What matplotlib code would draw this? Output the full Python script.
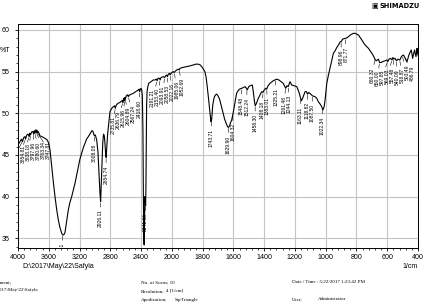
import numpy as np
import matplotlib.pyplot as plt
from matplotlib.ticker import FixedLocator, NullFormatter

wavenumber = np.array([
    4000, 3975, 3955, 3942, 3925, 3910, 3902, 3885, 3870, 3854, 3846, 3838, 3820, 3805, 3797,
    3789, 3780, 3772, 3763, 3755, 3747, 3735, 3715, 3690, 3650, 3620, 3600, 3584, 3562, 3540,
    3519, 3498, 3476, 3455, 3432, 3419, 3405, 3389, 3370, 3346, 3325, 3302, 3280, 3259, 3237,
    3216, 3195, 3172, 3150, 3129, 3108, 3086, 3060, 3040, 3029, 3018, 3008, 2995, 2977, 2960,
    2945, 2935, 2926, 2918, 2908, 2898, 2888, 2878, 2868, 2860, 2854, 2846, 2835, 2820, 2804,
    2782, 2760, 2745, 2735, 2722, 2700, 2675, 2652, 2642, 2636, 2628, 2620, 2615, 2610, 2604,
    2592, 2580, 2572, 2567, 2550, 2525, 2501, 2470, 2436, 2426, 2418, 2410, 2400, 2392, 2384,
    2376, 2370, 2364, 2360, 2356, 2351, 2347, 2341, 2337, 2333, 2328, 2322, 2312, 2300,
    2270, 2241, 2220, 2200, 2191, 2180, 2160, 2153, 2140, 2110, 2093, 2080, 2068, 2058, 2045,
    2030, 2022, 2010, 2000, 1990, 1985, 1975, 1960, 1952, 1947, 1930, 1904, 1880, 1861, 1845,
    1828, 1815, 1806, 1795, 1785, 1777, 1770, 1760, 1752, 1746, 1741, 1734, 1725, 1717, 1708,
    1700, 1690, 1680, 1668, 1657, 1647, 1638, 1632, 1625, 1618, 1611, 1602, 1594, 1586, 1579,
    1570, 1560, 1546, 1535, 1524, 1515, 1510, 1500, 1492, 1477, 1470, 1462, 1458, 1450, 1438,
    1427, 1416, 1408, 1400, 1390, 1384, 1375, 1362, 1341, 1319, 1304, 1290, 1276, 1268, 1260,
    1252, 1244, 1232, 1221, 1205, 1188, 1175, 1166, 1158, 1150, 1134, 1125, 1118, 1110, 1091,
    1087, 1070, 1058, 1048, 1036, 1026, 1018, 1010, 1004, 993, 982, 972, 961, 950, 939,
    928, 917, 905, 899, 890, 874, 868, 852, 840, 830, 820, 809, 798, 787, 776,
    765, 755, 744, 733, 722, 711, 700, 690, 680, 672, 665, 657, 650, 640, 630,
    615, 603, 597, 588, 578, 569, 563, 557, 549, 540, 530, 518, 508, 503, 494,
    486, 478, 472, 465, 461, 452, 444, 438, 435, 428, 422, 418, 413, 408, 406,
    403, 400])
transmittance = np.array([
    46.2, 46.6, 46.9, 46.6, 47.1, 47.2, 46.9, 47.4, 47.5, 47.2, 47.6, 47.4, 47.8, 47.8, 47.5,
    47.9, 47.6, 48.0, 47.7, 48.0, 47.6, 47.8, 47.3, 47.2, 47.0, 46.8, 46.4, 45.6, 43.6, 41.7,
    40.0, 38.5, 37.2, 36.3, 35.6, 35.4, 35.4, 35.7, 36.9, 38.4, 39.3, 40.0, 40.8, 41.6, 42.6,
    43.6, 44.5, 45.2, 45.9, 46.4, 46.9, 47.2, 47.6, 47.9, 47.9, 47.6, 47.3, 47.4, 46.8, 45.3,
    42.5, 40.5, 39.4, 41.5, 44.5, 46.5, 47.5, 47.3, 46.2, 45.0, 44.7, 45.8, 47.5, 48.8, 50.2,
    50.6, 50.8, 50.9, 50.6, 51.0, 51.2, 51.3, 51.5, 51.5, 51.3, 51.8, 51.7, 51.5, 51.9, 51.7,
    52.1, 52.2, 52.2, 52.0, 52.2, 52.3, 52.4, 52.6, 52.8, 52.9, 52.6, 52.9, 53.0, 52.8, 52.2,
    48.0, 40.0, 34.8, 34.2, 36.5, 40.0, 39.6, 38.9, 41.0, 46.0, 51.0, 52.6, 53.2, 53.6,
    53.8, 54.0, 54.0, 54.1, 53.9, 54.2, 54.2, 54.0, 54.3, 54.4, 54.3, 54.5, 54.6, 54.4, 54.7,
    54.8, 54.6, 54.8, 54.9, 55.0, 54.9, 55.1, 55.3, 55.2, 55.4, 55.5, 55.6, 55.7, 55.8, 55.9,
    55.9, 55.8, 55.6, 55.3, 55.0, 54.3, 53.2, 51.5, 50.0, 49.0, 49.3, 51.0, 51.9, 52.2, 52.3,
    52.1, 51.7, 51.0, 50.1, 49.3, 48.8, 48.4, 48.3, 48.5, 48.9, 49.2, 50.0, 50.8, 51.7, 52.4,
    52.7, 52.9, 53.0, 53.1, 53.2, 53.0, 52.8, 53.2, 53.3, 53.4, 52.5, 51.3, 50.9, 51.2, 51.8,
    52.2, 52.6, 52.5, 52.8, 53.0, 52.9, 53.3, 53.6, 53.9, 54.1, 54.0, 53.8, 53.6, 53.3, 53.0,
    53.3, 53.2, 53.8, 53.4, 53.3, 53.2, 52.6, 52.0, 51.5, 51.8, 52.6, 52.6, 52.3, 52.5, 52.2,
    52.1, 52.0, 51.8, 51.4, 51.1, 50.8, 50.4, 50.8, 51.6, 53.6, 54.6, 55.4, 56.3, 57.2, 57.5,
    57.9, 58.2, 58.6, 58.6, 58.9, 59.0, 59.0, 59.2, 59.4, 59.5, 59.6, 59.6, 59.5, 59.4, 59.1,
    58.8, 58.5, 58.2, 58.0, 57.8, 57.5, 57.2, 56.9, 56.5, 56.3, 56.4, 56.5, 56.1, 56.1, 56.2,
    56.3, 56.4, 56.2, 56.5, 56.6, 56.4, 56.7, 56.5, 56.6, 56.3, 56.5, 56.4, 56.8, 56.9, 57.0,
    56.7, 56.4, 56.2, 56.6, 56.9, 57.3, 57.6, 57.0, 56.6, 57.2, 57.6, 57.2, 56.8, 57.5, 57.8,
    57.3, 57.0])

peak_wn = [3938.45, 3902.12, 3854.81, 3838.18, 3797.96, 3780.60, 3763.34, 3747.81, 3419.41,
           3008.08, 2926.11, 2854.74, 2735.81, 2636.79, 2615.96, 2604.89, 2567.24, 2418.60,
           2341.66, 2191.21, 2153.40, 2093.91, 2058.53, 2022.16, 1985.06, 1952.69, 1743.71,
           1629.90, 1604.32, 1548.48, 1512.24, 1458.30, 1408.18, 1383.01, 1325.21, 1261.48,
           1244.13, 1163.11, 1118.82, 1087.50, 1022.34, 898.96, 871.77, 680.32, 650.00,
           597.85, 569.03, 557.48, 540.09, 518.87, 503.49, 486.79]

xticks = [4000, 3600, 3200, 2800, 2400, 2000, 1800, 1600, 1400, 1200, 1000, 800, 600, 400]
yticks = [35, 40, 45, 50, 55, 60]


# Shimadzu style axis: 4000-2000 compressed, 2000-400 expanded x2
def fwd(w):
    w = np.asarray(w, float)
    return np.where(w <= 2000, w / 200.0, 10 + (w - 2000) / 400.0)


def inv(u):
    u = np.asarray(u, float)
    return np.where(u <= 10, u * 200.0, 2000 + (u - 10) * 400.0)


W, H, DPI = 423, 302, 100
fig = plt.figure(figsize=(W / DPI, H / DPI), dpi=DPI)
ax = fig.add_axes([18 / W, 1 - 248 / H, 400 / W, 224 / H])

ax.set_xscale('function', functions=(fwd, inv))
ax.set_xlim(4000, 400)
ax.set_ylim(33.83, 60.72)

ax.plot(wavenumber, transmittance, color='black', lw=0.8)

ax.xaxis.set_major_locator(FixedLocator(xticks))
ax.xaxis.set_minor_locator(FixedLocator(np.r_[np.arange(4000, 2000, -80), np.arange(2000, 399, -40)]))
ax.xaxis.set_minor_formatter(NullFormatter())
ax.set_xticklabels([str(t) for t in xticks])
ax.yaxis.set_major_locator(FixedLocator(yticks))
ax.yaxis.set_minor_locator(FixedLocator(np.arange(34, 61, 1)))
ax.set_yticklabels([str(t) for t in yticks])

ax.grid(True, which='major', color='#c4c4c4', lw=0.8)
ax.set_axisbelow(True)
ax.tick_params(axis='both', which='major', direction='out', length=2.4, width=0.6,
               labelsize=5.1, colors='black')
ax.tick_params(axis='x', which='major', pad=2.0)
ax.tick_params(axis='y', which='major', pad=3.4)
ax.tick_params(axis='both', which='minor', direction='out', length=1.6, width=0.5)
for lab in ax.get_xticklabels() + ax.get_yticklabels():
    lab.set_family('Liberation Sans')
for s in ax.spines.values():
    s.set_linewidth(0.7)

# peak labels, spread apart when crowded
peak_T = np.interp(peak_wn, wavenumber[::-1], transmittance[::-1])
pts = ax.transData.transform(np.column_stack([peak_wn, peak_T]))
xs = pts[:, 0].copy()
order = np.argsort(xs)
gap = 5.0
for _ in range(400):
    moved = False
    for i in range(len(order) - 1):
        a, b = order[i], order[i + 1]
        d = xs[b] - xs[a]
        if d < gap - 0.01:
            s = (gap - d) / 2
            xs[a] -= s
            xs[b] += s
            moved = True
    if not moved:
        break

for i, w in enumerate(peak_wn):
    dx = (xs[i] - pts[i, 0]) * 72 / DPI
    ax.annotate(f"{w:.2f}", xy=(w, peak_T[i]), xytext=(dx, -6), textcoords='offset points',
                rotation=90, ha='center', va='top', fontsize=3.6, family='Liberation Sans',
                clip_on=True,
                arrowprops=dict(arrowstyle='-', lw=0.4, color='black', shrinkA=0, shrinkB=1))


def ftext(x, y, s, **kw):
    fig.text(x / W, 1 - y / H, s, **kw)


ftext(0, 51, '%T', fontsize=5, family='Liberation Sans', va='center')
ftext(22, 267, r'D:\2017\May\22\Safyla', fontsize=5, family='Liberation Sans', va='center')
ftext(418, 267, '1/cm', fontsize=5, family='Liberation Sans', va='center', ha='right')
ftext(378, 6, '\u25a3', fontsize=5, va='center', ha='right')
ftext(379, 6, 'SHIMADZU', fontsize=4.8, weight='bold', va='center')

info = dict(fontsize=3.6, family='Liberation Serif', va='center')
ftext(12, 282, 'Comment;', ha='right', **info)
ftext(38, 290, r'D:\2017\May\22\Safyla', ha='right', **info)
ftext(141, 282, 'No. of Scans; 10', **info)
ftext(141, 291, 'Resolution;', **info)
ftext(166, 291, '4 [1/cm]', **info)
ftext(141, 299.5, 'Apodization;', **info)
ftext(175, 299.5, 'SqrTriangle', **info)
ftext(292, 282, 'Date / Time : 5/22/2017 1:23:42 PM', **info)
ftext(292, 299.5, 'User;', **info)
ftext(318, 299.5, 'Administrator', **info)

plt.savefig('out.png', dpi=DPI)
